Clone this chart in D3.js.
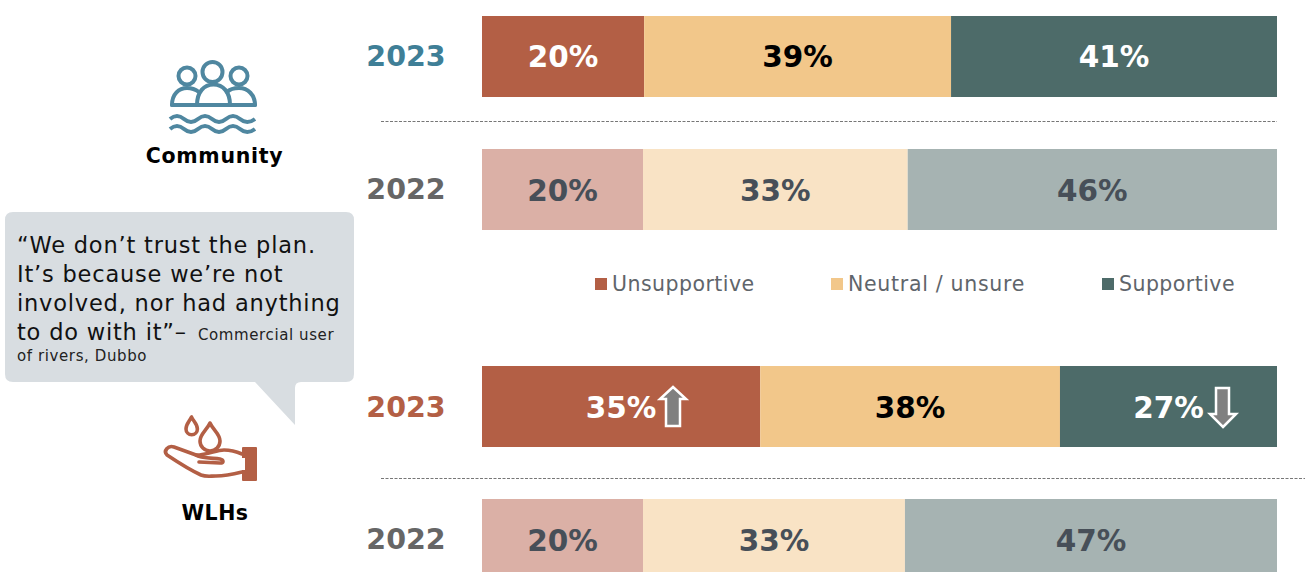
<!DOCTYPE html>
<html>
<head>
<meta charset="utf-8">
<script src="https://cdn.jsdelivr.net/npm/d3@7"></script>
<style>
html, body { margin: 0; padding: 0; background: #fff; overflow: hidden; }
text { font-family: "DejaVu Sans", Verdana, sans-serif; }
</style>
</head>
<body>
<script>
// values
var rowKeys = ["community2023", "community2022", "wlh2023", "wlh2022"];
var rowYears = ["2023", "2022", "2023", "2022"];
var unsupportive = [20.4, 20.25, 35, 20.25];
var neutral = [38.6, 33.3, 37.7, 32.95];
var supportive = [41, 46.45, 27.3, 46.8];
var legendLabels = ["Unsupportive", "Neutral / unsure", "Supportive"];
var quoteLines = ["“We don’t trust the plan.", "It’s because we’re not", "involved, nor had anything", "to do with it”–"];

var svgWidth = 1305;
var svgHeight = 572;
var seriesKeys = ["unsupportive", "neutral", "supportive"];
var strong = ["#b35f45", "#f2c78a", "#4d6b69"];
var faded = ["#dbb0a6", "#f9e3c5", "#a6b3b2"];
var strongText = ["#fff", "#000", "#fff"];
var yearColors = ["#3f7f97", "#666", "#b35f45", "#666"];
var yearBaseline = [50, 50, 51, 50];
var labelBaseline = [51, 52, 51.5, 52];
var blue = "#4f87a0";
var rust = "#b35f45";

var tableData = rowKeys.map(function (k, i) {
	return {key: k, row: i, year: rowYears[i], unsupportive: unsupportive[i], neutral: neutral[i], supportive: supportive[i]};
});

var svg = d3.select("body").append("svg")
	.attr("width", svgWidth)
	.attr("height", svgHeight)
	.style("display", "block");

var x = d3.scaleLinear().domain([0, 100]).range([482, 1277]);
var y = d3.scaleOrdinal().domain(rowKeys).range([16, 149, 366, 499]);
var barHeight = 81;
var series = d3.stack().keys(seriesKeys)(tableData);

// bars
var groups = svg.selectAll("g.series")
	.data(series)
	.enter().append("g")
	.attr("class", "series");

groups.selectAll("rect")
	.data(function (s) { return s.map(function (d) { return {s: s.index, d: d}; }); })
	.enter().append("rect")
	.attr("x", function (e) { return x(e.d[0]); })
	.attr("y", function (e) { return y(e.d.data.key); })
	.attr("width", function (e) { return x(e.d[1]) - x(e.d[0]); })
	.attr("height", barHeight)
	.attr("fill", function (e) { return e.d.data.year === "2023" ? strong[e.s] : faded[e.s]; });

groups.selectAll("text")
	.data(function (s) { return s.map(function (d) { return {s: s.index, d: d}; }); })
	.enter().append("text")
	.attr("x", function (e) { return (x(e.d[0]) + x(e.d[1])) / 2; })
	.attr("y", function (e) { return y(e.d.data.key) + labelBaseline[e.d.data.row]; })
	.attr("text-anchor", "middle")
	.attr("font-size", 29.5)
	.attr("font-weight", "bold")
	.attr("fill", function (e) { return e.d.data.year === "2023" ? strongText[e.s] : "#474f58"; })
	.text(function (e) { return Math.round(e.d[1] - e.d[0]) + "%"; });

// year labels
svg.selectAll("text.year")
	.data(tableData)
	.enter().append("text")
	.attr("class", "year")
	.attr("x", 406)
	.attr("y", function (d, i) { return y(d.key) + yearBaseline[i]; })
	.attr("text-anchor", "middle")
	.attr("font-size", 28.5)
	.attr("font-weight", "bold")
	.attr("fill", function (d, i) { return yearColors[i]; })
	.text(function (d) { return d.year; });

// dashed separators
svg.selectAll("line.sep")
	.data([[121, 1277], [478, 1305]])
	.enter().append("line")
	.attr("class", "sep")
	.attr("x1", 381)
	.attr("x2", function (d) { return d[1]; })
	.attr("y1", function (d) { return d[0] + 0.5; })
	.attr("y2", function (d) { return d[0] + 0.5; })
	.attr("stroke", "#777")
	.attr("stroke-dasharray", "3 1.5");

// legend
var legendX = [595, 831, 1102];
var legend = svg.selectAll("g.legend")
	.data(legendLabels)
	.enter().append("g")
	.attr("class", "legend")
	.attr("transform", function (d, i) { return "translate(" + legendX[i] + ",278)"; });
legend.append("rect")
	.attr("width", 12)
	.attr("height", 12)
	.attr("fill", function (d, i) { return strong[i]; });
legend.append("text")
	.attr("x", 17)
	.attr("y", 13)
	.attr("font-size", 20.5)
	.attr("letter-spacing", function (d, i) { return i === 1 ? 0.7 : 0.45; })
	.attr("fill", "#5f656b")
	.text(function (d) { return d; });

// speech bubble
svg.append("path")
	.attr("d", "M13,212H346Q354,212 354,220V374Q354,382 346,382H301Q295,382 295,388V425L255,382H13Q5,382 5,374V220Q5,212 13,212Z")
	.attr("fill", "#d8dde1");
var quote = svg.append("g");
quote.selectAll("text")
	.data(quoteLines)
	.enter().append("text")
	.attr("x", 17)
	.attr("y", function (d, i) { return 253 + i * 29; })
	.attr("font-size", 22.5)
	.attr("letter-spacing", 0.8)
	.attr("fill", "#111")
	.text(function (d) { return d; });
quote.append("text")
	.attr("x", 198).attr("y", 340)
	.attr("font-size", 15).attr("letter-spacing", 0.6).attr("fill", "#222")
	.text("Commercial user");
quote.append("text")
	.attr("x", 17).attr("y", 361)
	.attr("font-size", 15).attr("letter-spacing", 0.6).attr("fill", "#222")
	.text("of rivers, Dubbo");

// community icon
var people = svg.append("g")
	.attr("fill", "none")
	.attr("stroke", blue)
	.attr("stroke-width", 4)
	.attr("stroke-linejoin", "round")
	.attr("stroke-linecap", "round");
people.append("circle").attr("cx", 187).attr("cy", 76).attr("r", 8.5);
people.append("circle").attr("cx", 212.5).attr("cy", 72).attr("r", 10);
people.append("circle").attr("cx", 239).attr("cy", 76).attr("r", 8.5);
people.append("path").attr("d", "M172,105C172,94 179,88 187,88C191,88 195,89 199,92");
people.append("path").attr("d", "M227,92C230,89 234,88 239,88C248,88 255,95 255,105");
people.append("path").attr("d", "M172,105H255");
people.append("path").attr("d", "M197,105C197,92 204,84.5 213.5,84.5C223,84.5 230,92 230,105");
[119, 129].forEach(function (wy) {
	people.append("path")
		.attr("d", "M170," + wy + "q7,-6 14,0t14,0t14,0t14,0t14,0t15,0")
		.attr("stroke-width", 4)
		.attr("stroke-linecap", "butt");
});
svg.append("text")
	.attr("x", 214.5).attr("y", 163)
	.attr("text-anchor", "middle")
	.attr("font-size", 20.5).attr("letter-spacing", 0.7).attr("font-weight", "bold").attr("fill", "#000")
	.text("Community");

// WLH icon
var hand = svg.append("g")
	.attr("fill", "none")
	.attr("stroke", rust)
	.attr("stroke-width", 3.6)
	.attr("stroke-linejoin", "round")
	.attr("stroke-linecap", "round");
hand.append("path").attr("d", "M191.5,417C189,422 186,424 186,429A5.7,5.7 0 0 0 197.4,429C197.4,424 194,422 191.5,417Z");
hand.append("path").attr("d", "M210,423C207,430 200,434 200,441A10,10 0 0 0 220,441C220,434 213,430 210,423Z");
hand.append("path").attr("d", "M242,454C235,451 231,450 224,450C216,450 208,455 196,455L174,447C168,445 163,451 167,455C176,461 190,470 201,475C206,477 210,476 216,476C225,476 234,474 242,472");
hand.append("path").attr("d", "M196,455C200,458 212,458 220,459C224,460 224,463 220,463L199,462");
svg.append("path")
	.attr("d", "M243,447H256Q257,447 257,448V480Q257,481 256,481H243Q242,481 242,480V470H245V458H242V448Q242,447 243,447Z")
	.attr("fill", rust);
svg.append("text")
	.attr("x", 215).attr("y", 520)
	.attr("text-anchor", "middle")
	.attr("font-size", 20.5).attr("letter-spacing", 0.5).attr("font-weight", "bold").attr("fill", "#000")
	.text("WLHs");

// change arrows
var arrows = svg.append("g").attr("fill", "#808080").attr("stroke", "#fff").attr("stroke-width", 2.5);
arrows.append("path").attr("d", "M673,387L686,399H680V426H666V399H660Z");
arrows.append("path").attr("d", "M1223,427L1236,414H1229V388H1216V414H1210Z");
</script>
</body>
</html>
